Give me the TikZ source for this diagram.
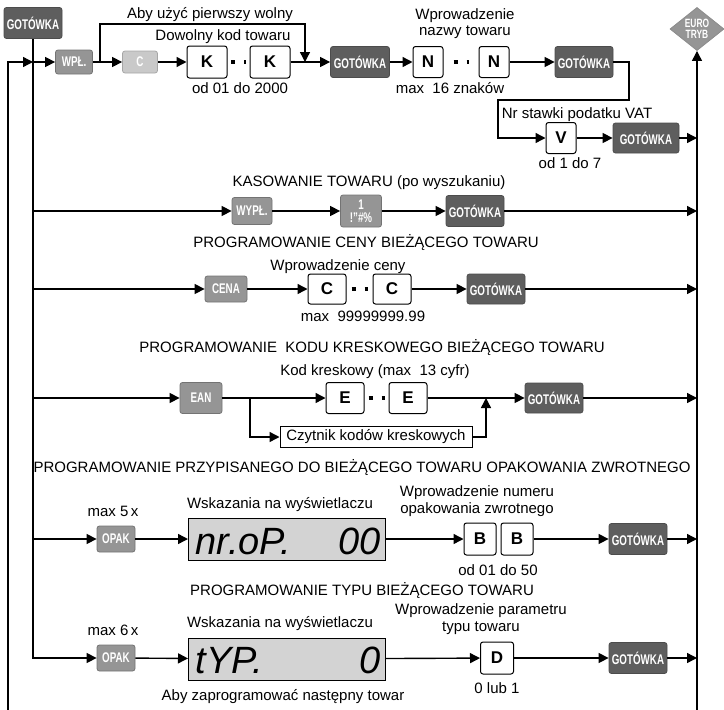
\documentclass[tikz,border=0pt]{standalone}
\usepackage{fontspec}
\setmainfont{Liberation Sans}
\usepackage{graphicx}
\usetikzlibrary{arrows.meta,shapes.geometric}

\definecolor{ciemny}{HTML}{5E5E5E}
\definecolor{sredni}{HTML}{959595}
\definecolor{jasny}{HTML}{C9C9C9}
\definecolor{lcdtlo}{HTML}{D3D3D3}

% 按键上的白色窄体字
\newcommand{\klaw}[1]{\scalebox{0.7}[1]{\bfseries #1}}

\begin{document}
\begin{tikzpicture}[x=1pt, y=-1pt,
    font=\fontsize{15}{17}\selectfont,
    line width=1.4pt,
    >={Triangle[length=10pt,width=10pt]},
    przycisk/.style={rectangle, rounded corners=2.5pt, inner sep=0pt, line width=0.8pt,
        text=white, font=\fontsize{14}{13}\selectfont},
    gotowka/.style={przycisk, draw=black!70, fill=ciemny, minimum width=58pt, minimum height=31pt},
    szary/.style={przycisk, draw=black!55, fill=sredni},
    jasnyk/.style={przycisk, draw=black!35, fill=jasny},
    klawisz/.style={rectangle, rounded corners=2.5pt, draw, fill=white, line width=1pt,
        inner sep=0pt, minimum width=30pt, minimum height=31pt,
        font=\bfseries\fontsize{17}{17}\selectfont},
    lcd/.style={rectangle, draw, line width=1pt, fill=lcdtlo, minimum width=197pt, minimum height=42pt},
    lcdtxt/.style={inner sep=0pt, font=\itshape\fontsize{38}{38}\selectfont},
    opis/.style={inner sep=0pt, align=center},
    kropki/.style={line width=4pt, dash pattern=on 4pt off 9pt, shorten <=#1, shorten >=#1},
]
    % --- 定义坐标和参数 ---
    \def\xL{8}     % 最外侧回路
    \def\xA{33}    % 左侧主干
    \def\xP{697}   % 右侧主干
    \def\yD{710}   % 底边

    \useasboundingbox (0,0) rectangle (724,710);

    % --- 左上角 GOTÓWKA 和右上角 EURO TRYB ---
    \node[gotowka] (got0) at (33,23) {\klaw{GOTÓWKA}};
    \node[diamond, draw=black!45, fill=sredni, line width=0.8pt, inner sep=0pt,
        minimum width=54pt, minimum height=40pt, text=white, align=center,
        font=\fontsize{12}{10.5}\selectfont] (euro) at (\xP,29) {\klaw{EURO}\\\klaw{TRYB}};

    % --- 第一行：商品编码与名称 ---
    \node[opis] (taby) at (210,15) {Aby użyć pierwszy wolny};
    \node[opis] (tdow) at (223,37) {Dowolny kod towaru};
    \node[szary, minimum width=37pt, minimum height=24pt] (wpl) at (74,62) {\klaw{WPŁ.}};
    \node[jasnyk, minimum width=35pt, minimum height=22pt] (c) at (140,62) {\klaw{C}};
    \node[klawisz, minimum width=40pt, minimum height=32pt] (k1) at (207,62) {K};
    \node[klawisz, minimum width=40pt, minimum height=32pt] (k2) at (270,62) {K};
    \node[opis] (tk) at (240,88) {od 01 do 2000};
    \node[gotowka, minimum width=59pt] (got1) at (360,62) {\klaw{GOTÓWKA}};
    \node[opis, font=\fontsize{15}{16}\selectfont] (tnaz) at (465,24) {Wprowadzenie\\nazwy towaru};
    \node[klawisz] (n1) at (428,62) {N};
    \node[klawisz] (n2) at (494,62) {N};
    \node[opis] (tn) at (450,88) {max\ \ 16 znaków};
    \node[gotowka] (got2) at (584,62) {\klaw{GOTÓWKA}};
    \node[opis] (tvat) at (577,115) {Nr stawki podatku VAT};
    \node[klawisz] (v) at (561,138) {V};
    \node[opis] (tv) at (570,163) {od 1 do 7};
    \node[gotowka, minimum width=66pt, minimum height=30pt] (got3) at (646,138) {\klaw{GOTÓWKA}};

    % --- KASOWANIE TOWARU ---
    \node[opis] (tkas) at (369,183) {KASOWANIE TOWARU (po wyszukaniu)};
    \node[szary, minimum width=40pt, minimum height=27pt] (wypl) at (252,211) {\klaw{WYPŁ.}};
    \node[szary, align=center, minimum width=41pt, minimum height=32pt] (jeden) at (361,211)
        {\klaw{1}\\\klaw{!"\#\%}};
    \node[gotowka] (got4) at (475,211) {\klaw{GOTÓWKA}};

    % --- PROGRAMOWANIE CENY ---
    \node[opis] (tcen) at (366,243) {PROGRAMOWANIE CENY BIEŻĄCEGO TOWARU};
    \node[opis] (twc) at (338,267) {Wprowadzenie ceny};
    \node[szary, minimum width=42pt, minimum height=26pt] (cena) at (226,289) {\klaw{CENA}};
    \node[klawisz, minimum width=38pt, minimum height=30pt] (c1) at (327,289) {C};
    \node[klawisz, minimum width=38pt, minimum height=30pt] (c2) at (392,289) {C};
    \node[opis] (tc) at (363,316) {max\ \ 99999999.99};
    \node[gotowka, minimum height=30pt] (got5) at (496,289) {\klaw{GOTÓWKA}};

    % --- PROGRAMOWANIE KODU KRESKOWEGO ---
    \node[opis] (tkod) at (372,348) {PROGRAMOWANIE\ \ KODU KRESKOWEGO BIEŻĄCEGO TOWARU};
    \node[opis] (tkk) at (375,372) {Kod kreskowy (max\ \ 13 cyfr)};
    \node[szary, minimum width=42pt, minimum height=31pt] (ean) at (201,398) {\klaw{EAN}};
    \node[klawisz, minimum width=38pt] (e1) at (345,398) {E};
    \node[klawisz, minimum width=38pt] (e2) at (408,398) {E};
    \node[gotowka, minimum height=30pt] (got6) at (554,398) {\klaw{GOTÓWKA}};
    \node[draw, line width=1pt, fill=white, inner sep=0pt, minimum width=192pt,
        minimum height=21pt] (czyt) at (376,437) {Czytnik kodów kreskowych};

    % --- OPAKOWANIE ZWROTNE ---
    \node[opis] (tzw) at (362,468) {PROGRAMOWANIE PRZYPISANEGO DO BIEŻĄCEGO TOWARU OPAKOWANIA ZWROTNEGO};
    \node[opis] (tmax5) at (113,511) {max 5\,x};
    \node[szary, minimum width=38pt, minimum height=26pt] (opak1) at (116,539) {\klaw{OPAK}};
    \node[opis] (tws1) at (280,505) {Wskazania na wyświetlaczu};
    \node[lcd] (lcd1) at (287,539) {};
    \node[lcdtxt, anchor=base west] (lcd1a) at (195,554) {nr.oP.};
    \node[lcdtxt, anchor=base east] (lcd1b) at (381,554) {00};
    \node[opis] (tnum) at (477,501) {Wprowadzenie numeru\\opakowania zwrotnego};
    \node[klawisz, minimum width=32pt, minimum height=32pt] (bb1) at (480,539) {B};
    \node[klawisz, minimum width=32pt, minimum height=32pt] (bb2) at (517,539) {B};
    \node[opis] (tb) at (498,570) {od 01 do 50};
    \node[gotowka] (got7) at (638,539) {\klaw{GOTÓWKA}};

    % --- TYP TOWARU ---
    \node[opis] (ttyp) at (362,591) {PROGRAMOWANIE TYPU BIEŻĄCEGO TOWARU};
    \node[opis] (tmax6) at (113,630) {max 6\,x};
    \node[szary, minimum width=38pt, minimum height=26pt] (opak2) at (116,658) {\klaw{OPAK}};
    \node[opis] (tws2) at (280,624) {Wskazania na wyświetlaczu};
    \node[lcd] (lcd2) at (287,659) {};
    \node[lcdtxt, anchor=base west] (lcd2a) at (195,673) {tYP.};
    \node[lcdtxt, anchor=base east] (lcd2b) at (381,673) {0};
    \node[opis] (tpar) at (481,619) {Wprowadzenie parametru\\typu towaru};
    \node[klawisz, minimum width=33pt, minimum height=32pt] (d) at (497,658) {D};
    \node[opis] (td) at (497,688) {0 lub 1};
    \node[gotowka] (got8) at (638,658) {\klaw{GOTÓWKA}};
    \node[opis] (tnast) at (283,697) {Aby zaprogramować następny towar};

    % --- 辅助坐标 ---
    \coordinate (l0) at (\xL,\yD);
    \coordinate (pD) at (\xP,\yD);
    \coordinate (s1) at (\xA,62);
    \coordinate (s2) at (\xA,211);
    \coordinate (s3) at (\xA,289);
    \coordinate (s4) at (\xA,398);
    \coordinate (s5) at (\xA,539);
    \coordinate (p1) at (\xP,138);
    \coordinate (p2) at (\xP,211);
    \coordinate (p3) at (\xP,289);
    \coordinate (p4) at (\xP,398);
    \coordinate (p5) at (\xP,539);
    \coordinate (p6) at (\xP,658);
    \coordinate (b1) at (100,62);
    \coordinate (b2) at (305,62);
    \coordinate (z1) at (629,100);
    \coordinate (z2) at (498,100);
    \coordinate (e0) at (250,398);
    \coordinate (e3) at (486,398);

    % --- 左右两条主干 ---
    \draw[->] (l0) |- (s1);
    \draw[->] (got0) |- (opak2);
    \draw[->] (pD) -- (euro);

    % --- 第一行连线 ---
    \draw[->] (s1) -- (wpl);
    \draw[->] (wpl) -- (c);
    \draw[->] (b1) -- ++(0,-38) -| (b2);
    \draw[->] (c) -- (k1);
    \draw[kropki=3.5pt] (k1) -- (k2);
    \draw[->] (k2) -- (got1);
    \draw[->] (got1) -- (n1);
    \draw[kropki=10pt] (n1) -- (n2);
    \draw[->] (n2) -- (got2);
    \draw[->] (got2) -| (z1) -- (z2) |- (v);
    \draw[->] (v) -- (got3);
    \draw[->] (got3) -- (p1);

    % --- KASOWANIE 连线 ---
    \draw[->] (s2) -- (wypl);
    \draw[->] (wypl) -- (jeden);
    \draw[->] (jeden) -- (got4);
    \draw[->] (got4) -- (p2);

    % --- CENA 连线 ---
    \draw[->] (s3) -- (cena);
    \draw[->] (cena) -- (c1);
    \draw[kropki=5pt] (c1) -- (c2);
    \draw[->] (c2) -- (got5);
    \draw[->] (got5) -- (p3);

    % --- EAN 连线 ---
    \draw[->] (s4) -- (ean);
    \draw[->] (ean) -- (e1);
    \draw[->] (e0) |- (czyt);
    \draw[->] (czyt) -| (e3);
    \draw[kropki=4pt] (e1) -- (e2);
    \draw[->] (e2) -- (got6);
    \draw[->] (got6) -- (p4);

    % --- OPAK 连线 ---
    \draw[->] (s5) -- (opak1);
    \draw[->] (opak1) -- (lcd1);
    \draw[->] (lcd1) -- (bb1);
    \draw[->] (bb2) -- (got7);
    \draw[->] (got7) -- (p5);

    \draw[->] (opak2) -- (lcd2);
    \draw[->] (lcd2) -- (d);
    \draw[->] (d) -- (got8);
    \draw[->] (got8) -- (p6);

\end{tikzpicture}
\end{document}
